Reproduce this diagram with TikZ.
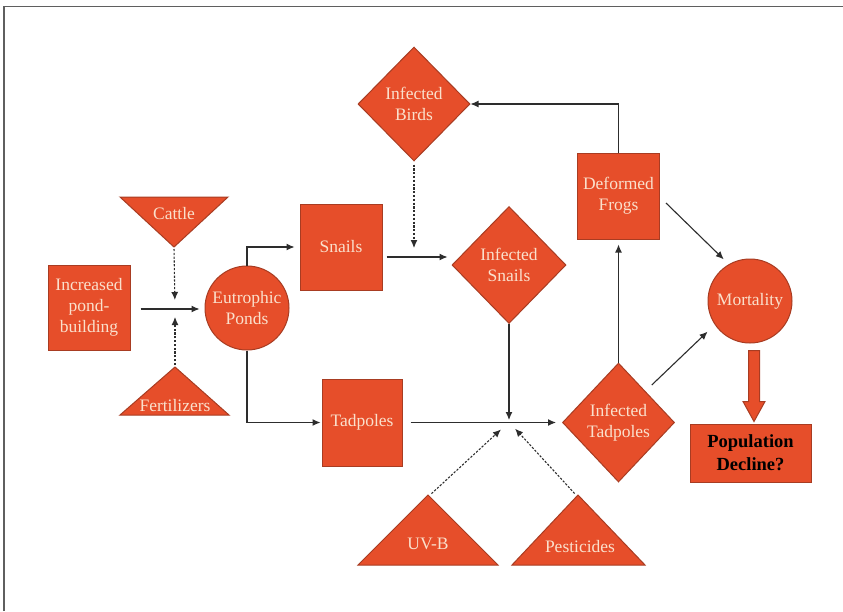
\documentclass[tikz,border=0pt]{standalone}
\usepackage{fontspec}
\setmainfont{Liberation Serif}
\newfontfamily\diagfont{Liberation Serif}
\usetikzlibrary{shapes.geometric,arrows.meta,calc}
\definecolor{boxfill}{RGB}{230,78,42}
\definecolor{boxline}{RGB}{168,60,34}
\definecolor{boxtext}{RGB}{250,224,204}
\definecolor{linec}{RGB}{45,45,45}
\definecolor{framec}{RGB}{95,95,95}
\newcommand{\zw}[1]{\makebox[0pt]{#1}}
\begin{document}
\begin{tikzpicture}[x=1pt,y=-1pt,
  shapebase/.style={draw=boxline, fill=boxfill, line width=1pt, text=boxtext,
    font=\diagfont\fontsize{17.5}{21}\selectfont, align=center, inner sep=0pt},
  rectbox/.style 2 args={shapebase, rectangle, minimum width=#1pt, minimum height=#2pt},
  diabox/.style 2 args={shapebase, diamond, minimum width=#1pt, minimum height=#2pt},
  circbox/.style={shapebase, circle, minimum size=84pt},
  trishape/.style={draw=boxline, fill=boxfill, line width=1pt},
  tritext/.style={text=boxtext, font=\diagfont\fontsize{17.5}{21}\selectfont, inner sep=0pt},
  arr/.style={draw=linec, line width=1.1pt, -{Latex[length=8pt,width=7pt]}},
  dotarr/.style={arr, dash pattern=on 2.2pt off 1.6pt},
  blockarrow/.style={draw=boxline, fill=boxfill, line width=1pt, line join=miter}
]
\useasboundingbox (0,0) rectangle (843,611);
\fill[white] (0,0) rectangle (843,611);
\draw[framec, line width=1.6pt] (4,611) -- (4,6.5) -- (843,6.5);

% triangles
\draw[trishape] (120,197) -- (228,197) -- (174,247) -- cycle;
\node[tritext] (cattle) at (174,214) {Cattle};
\coordinate (cattle-tip) at (174,247);

\draw[trishape] (120,415) -- (229,415) -- (175,367) -- cycle;
\node[tritext] (fert) at (175,406) {Fertilizers};
\coordinate (fert-tip) at (175,367);

\draw[trishape] (358,565) -- (498,565) -- (428,495) -- cycle;
\node[tritext] (uvb) at (428,544) {UV-B};
\coordinate (uvb-tip) at (430,495);

\draw[trishape] (512,565) -- (645,565) -- (578,495) -- cycle;
\node[tritext] (pest) at (580,547) {Pesticides};
\coordinate (pest-tip) at (576,495);

% boxes
\node[rectbox={82}{85}] (inc) at (89,307.5) {Increased\\pond-\\building};
\node[circbox] (eut) at (247,308) {Eutrophic\\Ponds};
\node[rectbox={82}{86}] (snails) at (341,247) {Snails};
\node[rectbox={80}{87}] (tad) at (362,422.5) {Tadpoles};
\node[diabox={112}{114}] (birds) at (414,104) {\zw{Infected}\\\zw{Birds}};
\node[diabox={114}{117}] (isn) at (509,265) {\zw{Infected}\\\zw{Snails}};
\node[rectbox={82}{86}] (frogs) at (618.5,196) {Deformed\\Frogs};
\node[diabox={112}{119}] (itad) at (618.5,422.5) {\zw{Infected}\\\zw{Tadpoles}};
\node[circbox] (mort) at (750,301) {Mortality};
\node[rectbox={121}{58}, text=black, font=\diagfont\fontsize{18.5}{23}\selectfont\bfseries] (pop) at (750.5,453) {Population\\Decline?};

% junctions
\coordinate (j0) at (175,309);
\coordinate (j1) at (414,257);
\coordinate (j2) at (509,422);

% connectors
\draw[arr, shorten <=10pt, shorten >=5pt] (inc.east |- j0) -- (eut.west |- j0);
\draw[dotarr, shorten <=2pt, shorten >=9pt] (cattle-tip) -- (j0);
\draw[dotarr, shorten <=2pt, shorten >=8pt] (fert-tip) -- (j0);
\draw[arr, shorten >=5pt] (eut.north) |- (snails.west);
\draw[arr, shorten >=1pt] (eut.south) |- (tad.west);
\draw[arr, shorten <=4pt, shorten >=4pt] (snails.east |- j1) -- (isn.west |- j1);
\draw[dotarr, shorten <=3pt, shorten >=9pt] (birds.south) -- (j1);
\draw[arr] (frogs.north) |- (birds.east);
\draw[arr, shorten >=2pt] (isn.south) -- (j2);
\draw[arr, shorten <=8pt, shorten >=6pt] (tad.east) -- (itad.west);
\draw[dotarr, shorten <=2pt, shorten >=11pt] (uvb-tip) -- (j2);
\draw[dotarr, shorten <=2pt, shorten >=9pt] (pest-tip) -- (j2);
\draw[arr, shorten >=5pt] (itad.north) -- (frogs.south);
\draw[arr, shorten >=7pt] ([shift={(6,7)}]frogs.east) -- (mort.120);
\draw[arr, shorten >=10pt] ([shift={(5,-7.5)}]itad.north east) -- (mort.214);

% block arrow
\coordinate (ba-top) at ($(mort.south)+(4,7)$);
\coordinate (ba-tip) at ($(pop.north)+(3.5,-2)$);
\draw[blockarrow] ($(ba-top)+(-5.5,0)$) -- ($(ba-top)+(5.5,0)$)
  -- ($(ba-tip)+(5.5,-20)$) -- ($(ba-tip)+(11,-20)$) -- (ba-tip)
  -- ($(ba-tip)+(-11,-20)$) -- ($(ba-tip)+(-5.5,-20)$) -- cycle;
\end{tikzpicture}
\end{document}
